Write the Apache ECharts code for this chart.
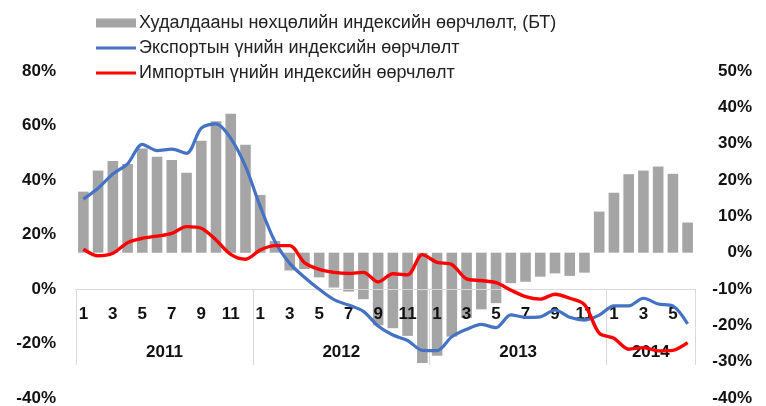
<!DOCTYPE html>
<html>
<head>
<meta charset="utf-8">
<script src="https://cdn.jsdelivr.net/npm/echarts@6/dist/echarts.min.js"></script>
<style>
  html, body { margin: 0; padding: 0; background: #fff; }
  #chart { width: 766px; height: 406px; }
</style>
</head>
<body>
<div id="chart"></div>
<script>
// months 2011.01 - 2014.06
var months = [];
for (var y = 0; y < 4; y++) {
  for (var m = 1; m <= 12; m++) {
    if (y === 3 && m > 6) break;
    months.push(String(m));
  }
}
var years = ['2011', '2012', '2013', '2014'];
var yearMid = [6, 18, 30, 39];       // label centre, in months from the start
var yearEdge = [0, 12, 24, 36, 42];  // separators

// Худалдааны нөхцөлийн индекс (right axis, %)
var tot = [
  16.8, 22.6, 25.2, 24.4, 28.7, 26.4, 25.5, 22.0, 30.8, 36.2, 38.2, 29.7,
  15.9, 3.2, -4.9, -4.5, -6.8, -9.6, -10.7, -12.8, -20.0, -20.8, -22.9, -30.4,
  -28.4, -23.1, -18.0, -15.6, -13.9, -8.4, -8.0, -6.6, -5.7, -6.4, -5.5, 11.3,
  16.5, 21.6, 22.6, 23.7, 21.7, 8.3
];
// Экспортын үнийн индекс (left axis, %)
var exportIdx = [
  33.0, 37.0, 42.2, 45.9, 53.1, 50.8, 51.3, 49.8, 59.0, 60.6, 55.3, 45.0,
  30.3, 17.4, 9.4, 4.3, -0.1, -3.9, -5.9, -8.2, -13.6, -16.9, -18.9, -22.5,
  -22.6, -17.5, -14.8, -13.0, -14.2, -9.5, -10.4, -10.2, -7.7, -10.4, -11.4, -9.6,
  -6.2, -6.2, -3.4, -5.5, -6.2, -12.8
];
// Импортын үнийн индекс (left axis, %)
var importIdx = [
  14.6, 12.2, 13.1, 17.0, 18.6, 19.4, 20.4, 22.9, 22.3, 18.0, 12.7, 10.9,
  14.3, 15.9, 15.9, 9.7, 7.2, 6.1, 5.7, 6.1, 2.6, 5.6, 5.2, 12.6,
  9.8, 9.0, 3.7, 3.1, 2.3, -0.4, -2.8, -3.7, -1.9, -3.4, -5.7, -16.2,
  -18.1, -22.1, -21.5, -22.7, -22.5, -19.7
];

var names = [
  'Худалдааны нөхцөлийн индексийн өөрчлөлт, (БТ)',
  'Экспортын үнийн индексийн өөрчлөлт',
  'Импортын үнийн индексийн өөрчлөлт'
];

var font = 'Liberation Sans, Arial, sans-serif';
// thin line icon for the legend, padded to the 40x9 box
var lineIcon = 'path://M0,0 M40,9 M0,3 L40,3 L40,6 L0,6 Z';
var zeroShift = -109; // x axes sit on the 0% of the left axis

var chart = echarts.init(document.getElementById('chart'), null, { renderer: 'canvas' });

var option = {
  animation: false,
  grid: { left: 76, right: 71, top: 71, bottom: 8, outerBoundsMode: 'none', containLabel: false },
  legend: {
    orient: 'vertical',
    left: 96,
    top: 14,
    padding: 0,
    itemWidth: 40,
    itemHeight: 9,
    itemGap: 7,
    textStyle: { fontFamily: font, fontSize: 18, color: '#222', padding: [0, 0, 0, -2] },
    data: [
      { name: names[0], icon: 'rect' },
      { name: names[1], icon: lineIcon },
      { name: names[2], icon: lineIcon }
    ]
  },
  xAxis: [
    {
      type: 'category',
      data: months,
      offset: zeroShift,
      z: 2, // labels over the bars, under the lines
      axisLine: { onZero: false, lineStyle: { color: '#d9d9d9', width: 1 } },
      axisTick: { show: false },
      axisLabel: {
        interval: 1,
        margin: 17,
        fontFamily: font, fontSize: 17, fontWeight: 'bold', color: '#111'
      },
      splitLine: { show: false }
    },
    {
      type: 'value',
      min: 0,
      max: 42,
      position: 'bottom',
      offset: zeroShift,
      z: 2,
      axisLine: { show: false, onZero: false },
      axisTick: {
        show: true, length: 76, customValues: yearEdge,
        lineStyle: { color: '#d9d9d9', width: 1 }
      },
      axisLabel: {
        customValues: yearMid,
        margin: 55,
        fontFamily: font, fontSize: 17, fontWeight: 'bold', color: '#111',
        formatter: function (v) { return years[yearMid.indexOf(v)]; }
      },
      splitLine: { show: false }
    }
  ],
  yAxis: [
    {
      type: 'value',
      min: -40, max: 80, interval: 20,
      axisLine: { show: false },
      axisTick: { show: false },
      splitLine: { show: false },
      axisLabel: {
        formatter: '{value}%', margin: 20,
        fontFamily: font, fontSize: 17, fontWeight: 'bold', color: '#111'
      }
    },
    {
      type: 'value',
      min: -40, max: 50, interval: 10,
      position: 'right',
      axisLine: { show: false },
      axisTick: { show: false },
      splitLine: { show: false },
      axisLabel: {
        formatter: '{value}%', margin: 57, align: 'right',
        fontFamily: font, fontSize: 17, fontWeight: 'bold', color: '#111'
      }
    }
  ],
  series: [
    {
      name: names[0],
      type: 'bar',
      yAxisIndex: 1,
      z: 1,
      data: tot,
      barCategoryGap: '28%',
      itemStyle: { color: '#a5a5a5' }
    },
    {
      name: names[1],
      type: 'line',
      yAxisIndex: 0,
      z: 3,
      data: exportIdx,
      smooth: 0.3,
      symbol: 'none',
      lineStyle: { color: '#4472c4', width: 3.2 },
      itemStyle: { color: '#4472c4', borderWidth: 0 }
    },
    {
      name: names[2],
      type: 'line',
      yAxisIndex: 0,
      z: 3,
      data: importIdx,
      smooth: 0.3,
      symbol: 'none',
      lineStyle: { color: '#ff0000', width: 3.4 },
      itemStyle: { color: '#ff0000', borderWidth: 0 }
    }
  ]
};

chart.setOption(option);
</script>
</body>
</html>
